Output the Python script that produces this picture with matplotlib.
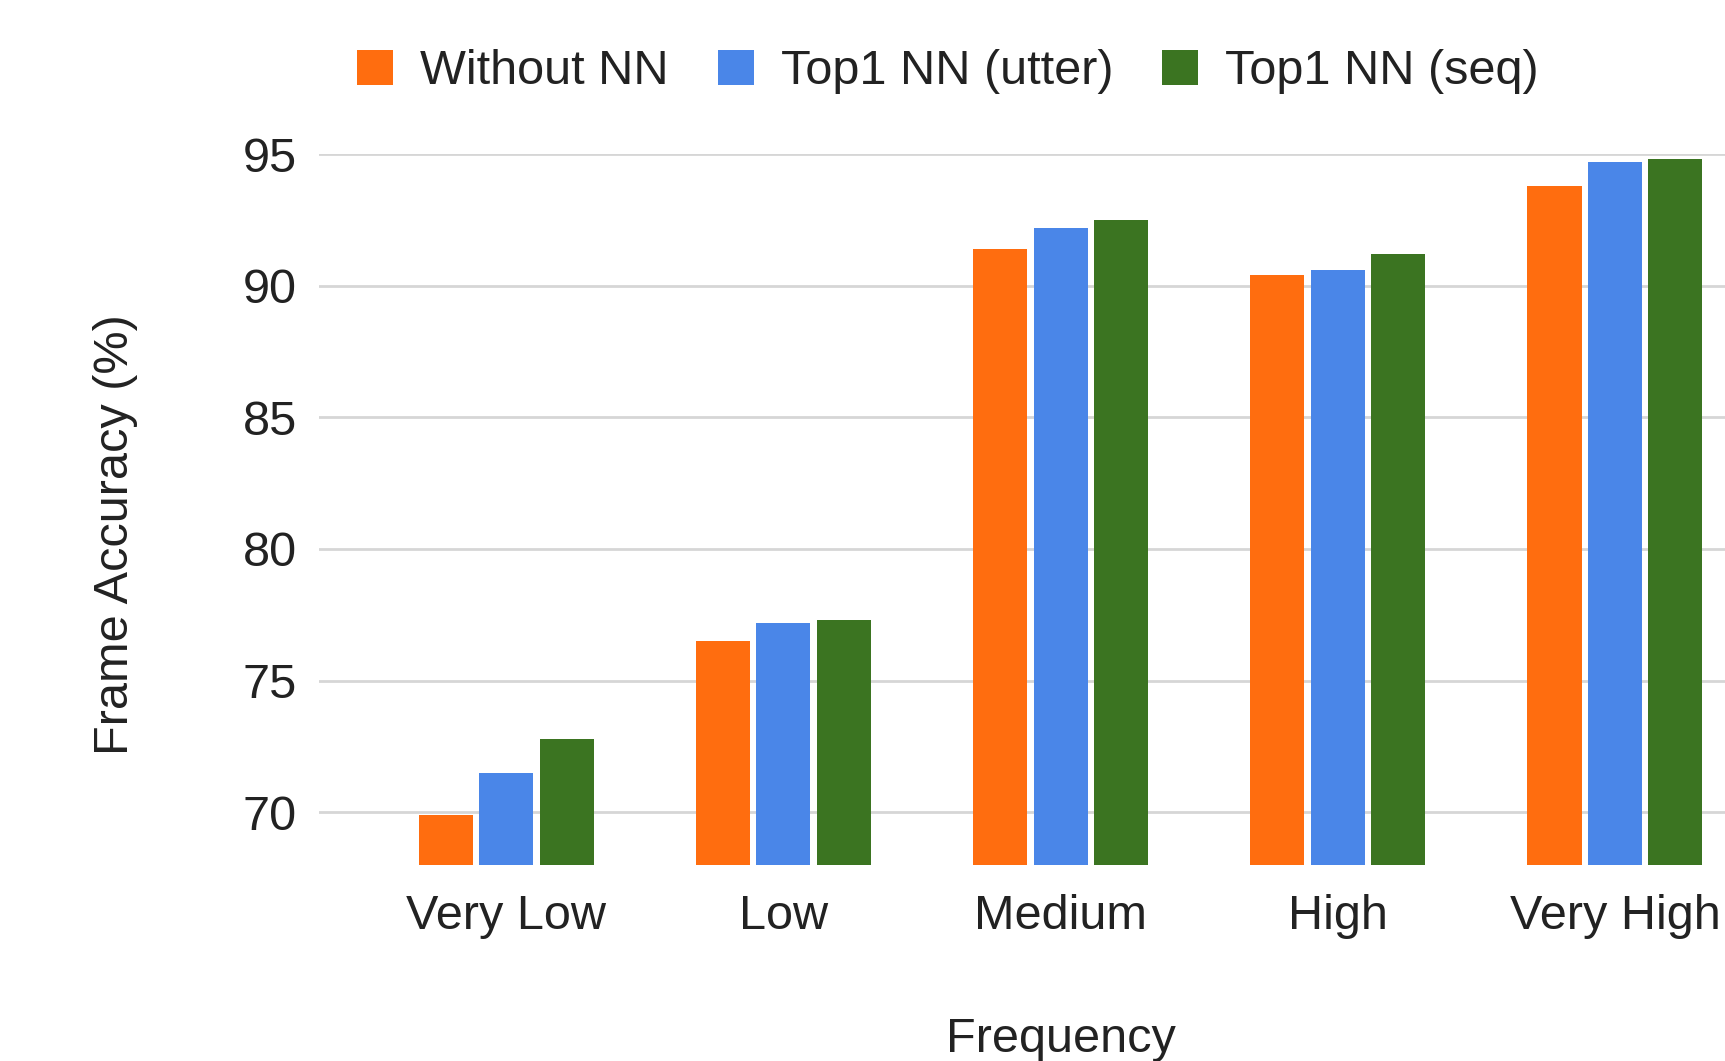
import matplotlib
matplotlib.use("Agg")
import matplotlib.pyplot as plt
import numpy as np
from matplotlib.patches import Patch

categories = ["Very Low", "Low", "Medium", "High", "Very High"]
series_names = ["Without NN", "Top1 NN (utter)", "Top1 NN (seq)"]
without_nn = [69.9, 76.5, 91.4, 90.4, 93.8]
top1_utter = [71.5, 77.2, 92.2, 90.6, 94.7]
top1_seq = [72.8, 77.3, 92.5, 91.2, 94.8]
yticks = [70, 75, 80, 85, 90, 95]

colors = ["#ff6d0f", "#4a86e8", "#3b7421"]
text_color = "#222222"
plt.rcParams['font.family'] = ['Liberation Sans', 'DejaVu Sans']
FS = 35

fig = plt.figure(figsize=(17.25, 10.61), dpi=100)
ax = fig.add_axes([319/1725, 1 - 865/1061, 1 - 319/1725, (865 - 154)/1061])

x = np.arange(len(categories))
bw = 0.195
step = 0.218
for i, (vals, c) in enumerate(zip([without_nn, top1_utter, top1_seq], colors)):
    ax.bar(x + (i - 1) * step, vals, width=bw, color=c, zorder=3)

ax.set_ylim(68, 95)
ax.set_xlim(-0.675, 4.397)
ax.set_yticks(yticks)
ax.set_xticks(x)
ax.set_xticklabels(categories)
ax.grid(axis='y', color='#d6d6d6', linewidth=2, zorder=0)
for s in ax.spines.values():
    s.set_visible(False)
ax.tick_params(axis='both', length=0, labelsize=FS, colors=text_color)
ax.tick_params(axis='y', pad=16)
ax.tick_params(axis='x', pad=21)

fig.text(115/1725, 1 - 535/1061, "Frame Accuracy (%)", rotation=90, ha='center', va='center',
         fontsize=FS, color=text_color)
fig.text(1061/1725, 1 - 1052/1061, "Frequency", ha='center', va='baseline',
         fontsize=FS, color=text_color)

handles = [Patch(facecolor=c, edgecolor='none') for c in colors]
fig.legend(handles, series_names, loc='center', bbox_to_anchor=(948/1725, 1 - 72/1061),
           ncol=3, frameon=False, fontsize=FS, handlelength=0.74, handleheight=0.74,
           handletextpad=0.56, columnspacing=1.0, borderpad=0, labelcolor=text_color)

fig.savefig("out.png", dpi=100)
